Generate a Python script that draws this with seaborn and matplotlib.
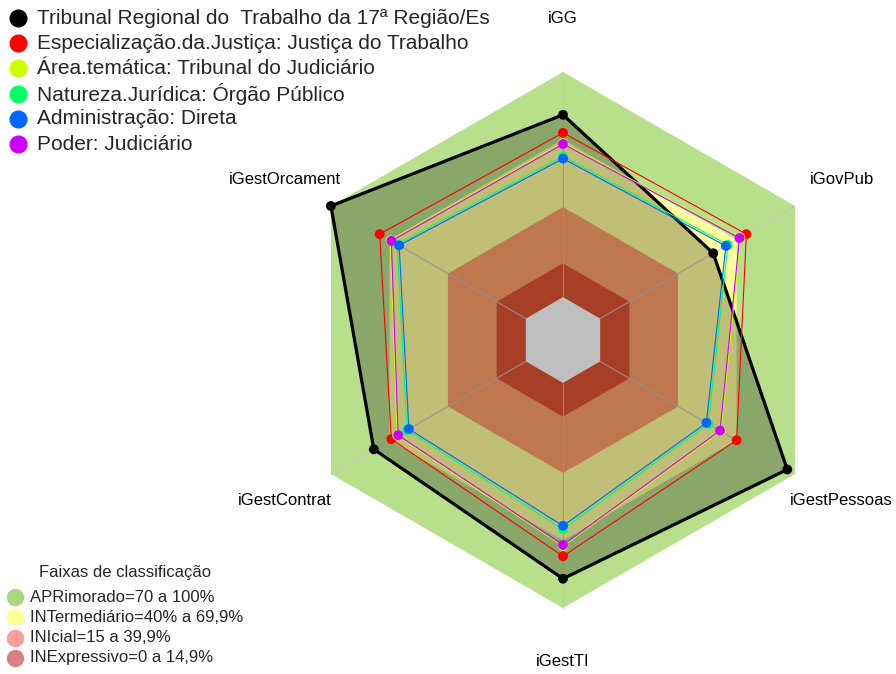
import numpy as np
import pandas as pd
import matplotlib
matplotlib.use("Agg")

import matplotlib.pyplot as plt
import seaborn as sns

# -------------------------------
# Data
# -------------------------------

axis_labels = ["iGG", "iGovPub", "iGestPessoas", "iGestTI", "iGestContrat", "iGestOrcament"]

series_names = [
    "Tribunal Regional do  Trabalho da 17ª Região/Es",
    "Especialização.da.Justiça: Justiça do Trabalho",
    "Área.temática: Tribunal do Judiciário",
    "Natureza.Jurídica: Órgão Público",
    "Administração: Direta",
    "Poder: Judiciário",
]

tribunal = [81, 58, 96, 87, 78, 100]
especializacao = [73, 75, 70, 77, 69, 75]
area_tematica = [68.5, 72, 62, 72.5, 66, 69.5]
natureza = [62.5, 65.5, 55.5, 65, 61, 66]
administracao = [61.5, 64.5, 54.5, 63.5, 60, 65]
poder = [68, 71.5, 61.5, 72, 65.5, 69]

series_values = [tribunal, especializacao, area_tematica, natureza, administracao, poder]
series_colors = ["#000000", "#FF0000", "#CCFF00", "#00FF66", "#0066FF", "#CC00FF"]

band_limits = [100, 70, 40, 15, 0]
band_colors = ["#B8E08C", "#FFFFA0", "#FFA06B", "#E05535", "#FFFFFF"]

faixas_labels = [
    "APRimorado=70 a 100%",
    "INTermediário=40% a 69,9%",
    "INIcial=15 a 39,9%",
    "INExpressivo=0 a 14,9%",
]
faixas_colors = ["#A8D880", "#FFFF99", "#FF9C9C", "#D98080"]

# -------------------------------
# Helpers
# -------------------------------

R0 = 0.16
angles = np.deg2rad([90, 30, -30, -90, -150, 150])


def radius(v):
    return R0 + (1 - R0) * np.asarray(v, dtype=float) / 100.0


def to_xy(values):
    r = radius(values)
    return r * np.cos(angles), r * np.sin(angles)


# -------------------------------
# Figure
# -------------------------------

sns.set_theme(style="white")
plt.rcParams["font.family"] = ["Liberation Sans", "DejaVu Sans"]

W, H = 896, 674
fig = plt.figure(figsize=(W / 100, H / 100), dpi=100)
ax = fig.add_axes([0, 0, 1, 1])

cx, cy, scale = 563, 340, 268
ax.set_xlim(-cx / scale, (W - cx) / scale)
ax.set_ylim(-(H - cy) / scale, cy / scale)
ax.axis("off")

# classification bands
for lim, col in zip(band_limits, band_colors):
    bx, by = to_xy([lim] * 6)
    ax.fill(bx, by, color=col, lw=0, zorder=1)

# spokes
ox, oy = to_xy([100] * 6)
ix, iy = to_xy([0] * 6)
for x0, y0, x1, y1 in zip(ix, iy, ox, oy):
    ax.plot([x0, x1], [y0, y1], color="#C4C4C4", lw=0.7, zorder=2)

# main series fill
tx, ty = to_xy(tribunal)
ax.fill(tx, ty, color="black", alpha=0.25, lw=0, zorder=3)

# series lines
rows = []
for name, vals, col in zip(series_names, series_values, series_colors):
    x, y = to_xy(vals)
    lw = 2.3 if col == "#000000" else 0.8
    ax.plot(np.append(x, x[0]), np.append(y, y[0]), color=col, lw=lw, zorder=4)
    for xi, yi in zip(x, y):
        rows.append({"x": xi, "y": yi, "serie": name})

points = pd.DataFrame(rows)
sns.scatterplot(
    data=points, x="x", y="y", hue="serie",
    palette=dict(zip(series_names, series_colors)),
    s=50, edgecolor="none", legend=False, ax=ax, zorder=5
)

# axis labels
for lab, a in zip(axis_labels, angles):
    ax.text(1.2 * np.cos(a), 1.2 * np.sin(a), lab, ha="center", va="center",
            fontsize=12, color="black", zorder=6)


def fx(px):
    return px / W


def fy(py):
    return 1 - py / H


# top legend
for i, (name, col) in enumerate(zip(series_names, series_colors)):
    yy = 18 + i * 25.2
    fig.add_artist(plt.Line2D([fx(18)], [fy(yy)], marker="o", markersize=12,
                              color=col, transform=fig.transFigure))
    fig.text(fx(37), fy(yy), name, fontsize=15, va="center", ha="left")

# bottom legend
fig.text(fx(125), fy(572), "Faixas de classificação", fontsize=12,
         ha="center", va="center")
for i, (lab, col) in enumerate(zip(faixas_labels, faixas_colors)):
    yy = 597 + i * 20.3
    fig.add_artist(plt.Line2D([fx(15)], [fy(yy)], marker="o", markersize=11.5,
                              color=col, transform=fig.transFigure))
    fig.text(fx(30), fy(yy), lab, fontsize=12, va="center", ha="left")

fig.savefig("out.png", dpi=100)
plt.close(fig)
